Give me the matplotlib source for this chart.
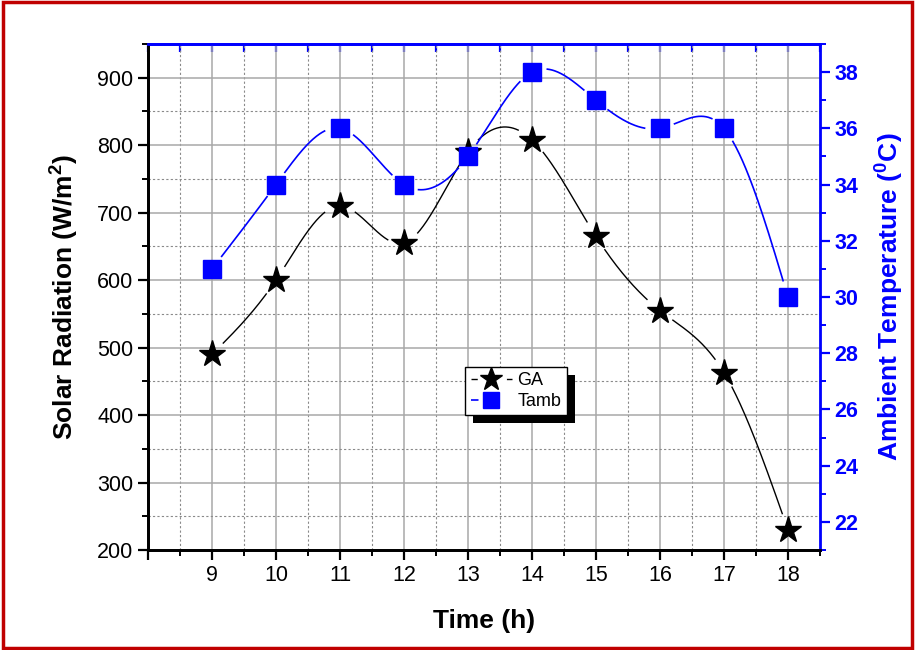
import numpy as np
import matplotlib.pyplot as plt
from matplotlib.lines import Line2D
from matplotlib.patches import Rectangle
from matplotlib.ticker import MultipleLocator

plt.rcParams['font.family'] = 'Liberation Sans'
plt.rcParams['mathtext.fontset'] = 'custom'
plt.rcParams['mathtext.rm'] = 'Liberation Sans'
plt.rcParams['mathtext.bf'] = 'Liberation Sans:bold'

# data
hours = [9, 10, 11, 12, 13, 14, 15, 16, 17, 18]
ga = [490, 600, 710, 655, 790, 808, 665, 555, 463, 230]
tamb = [31, 34, 36, 34, 35, 38, 37, 36, 36, 30]


def spline(x, y, n=80):
    # natural cubic spline for the smooth connecting line
    x = np.asarray(x, float)
    y = np.asarray(y, float)
    k = len(x)
    h = np.diff(x)
    A = np.zeros((k, k))
    b = np.zeros(k)
    A[0, 0] = A[-1, -1] = 1
    for i in range(1, k - 1):
        A[i, i - 1] = h[i - 1]
        A[i, i] = 2 * (h[i - 1] + h[i])
        A[i, i + 1] = h[i]
        b[i] = 6 * ((y[i + 1] - y[i]) / h[i] - (y[i] - y[i - 1]) / h[i - 1])
    M = np.linalg.solve(A, b)
    xs, ys = [], []
    for i in range(k - 1):
        t = np.linspace(x[i], x[i + 1], n)
        a = x[i + 1] - t
        c = t - x[i]
        s = (M[i] * a**3 + M[i + 1] * c**3) / (6 * h[i]) \
            + (y[i] / h[i] - M[i] * h[i] / 6) * a \
            + (y[i + 1] / h[i] - M[i + 1] * h[i] / 6) * c
        xs.append(t)
        ys.append(s)
    return np.concatenate(xs), np.concatenate(ys)


def gapped(axis, xs, ys, xp, yp, r):
    # leave a gap in the line around each symbol
    pts = axis.transData.transform(np.column_stack([xs, ys]))
    mk = axis.transData.transform(np.column_stack([xp, yp]))
    d = np.min(np.hypot(pts[:, None, 0] - mk[None, :, 0],
                        pts[:, None, 1] - mk[None, :, 1]), axis=1)
    ys = ys.copy()
    ys[d < r] = np.nan
    return ys


fig = plt.figure(figsize=(9.15, 6.5), dpi=100)
ax = fig.add_axes([0.1617, 0.1538, 0.7344, 0.7785])
ax2 = ax.twinx()

ax.set_xlim(8, 18.5)
ax.set_ylim(200, 950)
ax2.set_ylim(21, 39)

ax.set_xticks(range(8, 19))
ax.set_xticklabels([''] + [str(h) for h in hours])
ax.xaxis.set_minor_locator(MultipleLocator(0.5))
ax.set_yticks(range(200, 901, 100))
ax.yaxis.set_minor_locator(MultipleLocator(50))
ax2.set_yticks(range(22, 39, 2))
ax2.yaxis.set_minor_locator(MultipleLocator(1))

ax.grid(which='major', color='#a8a8a8', linestyle='-', linewidth=1.1)
ax.grid(which='minor', color='#8a8a8a', linestyle=(0, (2, 2)), linewidth=0.8)
ax.set_axisbelow(True)

ax.tick_params(axis='both', which='major', direction='out', length=7, width=1.6,
               labelsize=15.5, colors='black')
ax.tick_params(axis='both', which='minor', direction='out', length=4, width=1.4)
ax2.tick_params(axis='y', which='major', direction='out', length=7, width=1.6,
                labelsize=15.5, colors='blue')
ax2.tick_params(axis='y', which='minor', direction='out', length=4, width=1.4,
                colors='blue')
for lab in ax2.get_yticklabels():
    lab.set_fontweight('bold')

top = ax.secondary_xaxis('top')
top.set_xticks(range(8, 19))
top.xaxis.set_minor_locator(MultipleLocator(0.5))
top.tick_params(which='both', direction='in', length=6, width=1.6, colors='blue',
                labeltop=False)
top.spines['top'].set_color('blue')
top.spines['top'].set_linewidth(2)

for s in ['left', 'bottom']:
    ax.spines[s].set_linewidth(2)
ax2.spines['right'].set_color('blue')
ax2.spines['right'].set_linewidth(2)
ax2.spines['left'].set_linewidth(2)
ax2.spines['bottom'].set_linewidth(2)
ax.spines['top'].set_color('blue')
ax2.spines['top'].set_color('blue')
ax2.spines['top'].set_linewidth(2)

# smooth lines with gaps
sx, sy = spline(hours, ga)
ax.plot(sx, gapped(ax, sx, sy, hours, ga, 16), color='black', linewidth=1)
ax.plot(hours, ga, linestyle='none', marker='*', markersize=20, color='black')

tx, ty = spline(hours, tamb)
ax2.plot(tx, gapped(ax2, tx, ty, hours, tamb, 15), color='blue', linewidth=1.2)
ax2.plot(hours, tamb, linestyle='none', marker='s', markersize=13.5, color='blue')

ax.set_xlabel('Time (h)', fontsize=19, fontweight='bold', labelpad=17)
ax.set_ylabel(r'Solar Radiation (W/m$^\mathbf{2}$)', fontsize=19, fontweight='bold',
              labelpad=12)
ax2.set_ylabel(r'Ambient Temperature ($^\mathbf{0}$C)', fontsize=19,
               fontweight='bold', color='blue', labelpad=10)

handles = [
    Line2D([], [], color='black', linewidth=1, linestyle=(0, (4.5, 21)),
           marker='*', markersize=17),
    Line2D([], [], color='blue', linewidth=1.2, linestyle=(0, (4.5, 21)),
           marker='s', markersize=11.5),
]
leg = ax2.legend(handles, ['GA', 'Tamb'], loc='upper left',
                 bbox_to_anchor=(0.472, 0.362), borderaxespad=0,
                 fontsize=13, handlelength=2.3, handletextpad=0.3,
                 fancybox=False, edgecolor='black', framealpha=1,
                 borderpad=0.3, labelspacing=0.2)
leg.get_frame().set_linewidth(1)

fig.canvas.draw()
bb = leg.get_frame().get_window_extent().transformed(fig.transFigure.inverted())
ax2.add_patch(Rectangle((bb.x0 + 8 / 915, bb.y0 - 8 / 650), bb.width, bb.height,
                        transform=fig.transFigure, facecolor='black',
                        edgecolor='none', zorder=4, clip_on=False))
leg.set_zorder(5)

# red border around the figure
fig.patches.append(Rectangle((0.003, 0.003), 0.994, 0.994, transform=fig.transFigure,
                             fill=False, edgecolor='#c00000', linewidth=2.5))

fig.savefig('out.png', dpi=100)
